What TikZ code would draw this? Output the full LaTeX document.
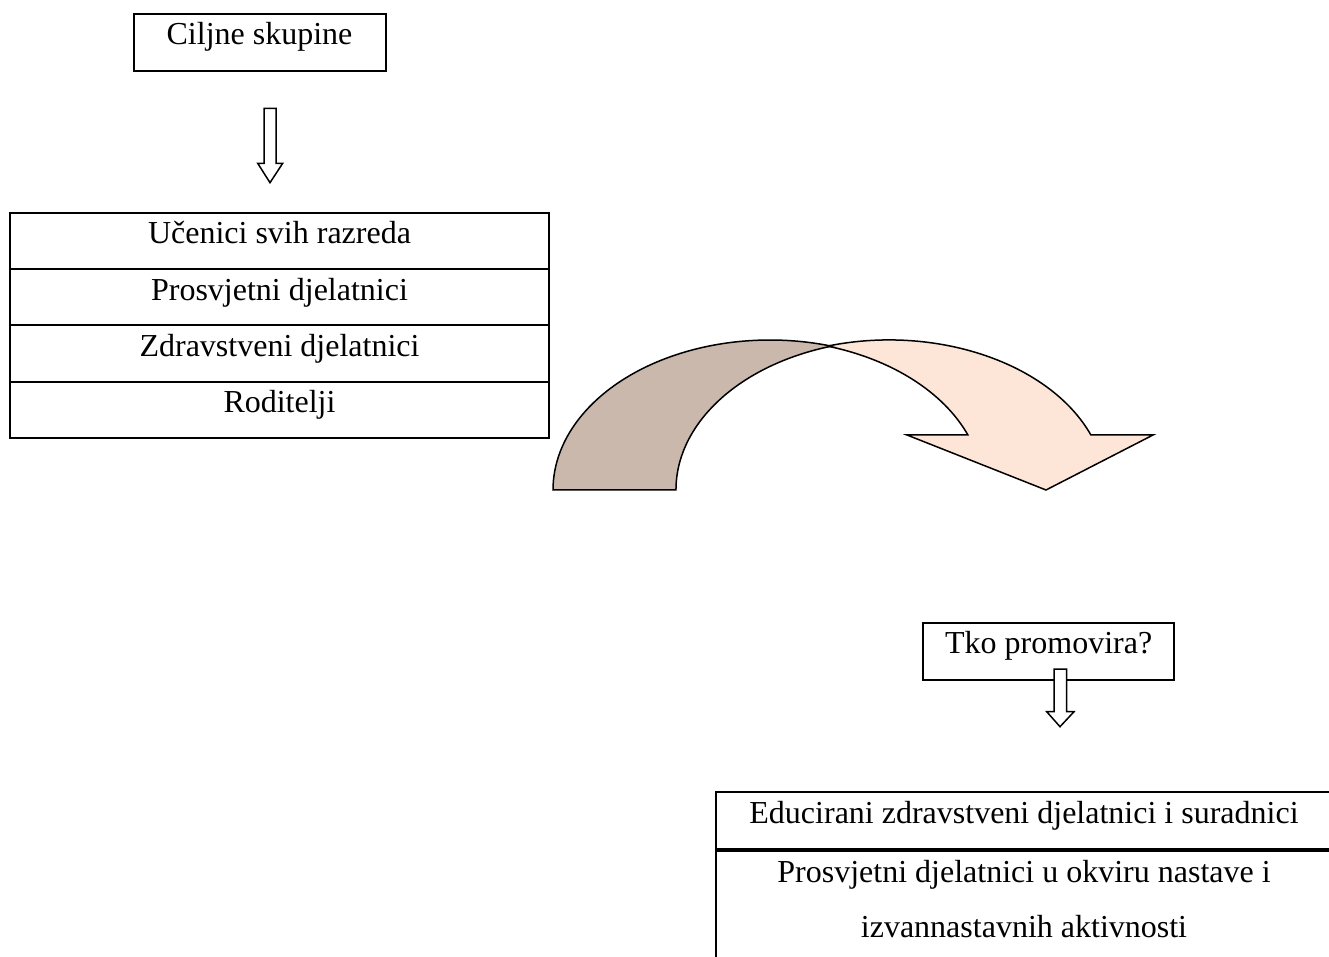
\documentclass[tikz,border=0pt]{standalone}
\usepackage{fontspec}
\setmainfont{Liberation Serif}
\definecolor{arcbrown}{RGB}{201,184,171}
\definecolor{arcpink}{RGB}{253,229,215}
\begin{document}
\begin{tikzpicture}[x=1pt,y=1pt,font=\fontsize{32}{55}\selectfont,
  box/.style={draw,line width=2pt,inner sep=0pt,text height=31pt,text depth=26pt,anchor=north},
  hollow/.style={draw,fill=white,line width=1.5pt,line join=miter},
  band/.style={draw,line width=1.5pt,x radius=217,y radius=150}]
\useasboundingbox (0,0) rectangle (1329,956);
% ciljne skupine
\node[box,minimum width=252pt] (cilj) at (259.5,943) {Ciljne skupine};
\draw[hollow](264,847.7)--(276,847.7)--(276,792.7)--(282.7,792.7)--(270,773.3)--(257.7,792.7)--(264,792.7)--cycle;
\foreach \t [count=\i from 0] in {Učenici svih razreda,Prosvjetni djelatnici,Zdravstveni djelatnici,Roditelji}
  \node[box,minimum width=539pt,text depth=25.25pt] (grupa\i) at (279.5,{744-56.25*\i}) {\t};
% zakrivljena strelica
\draw[band,fill=arcpink](827.5,609.9) arc[start angle=106.46,end angle=21.51]
  --(1153,521)--(1046,466)--(907,521)--(967.9,521)
  arc[start angle=21.51,end angle=73.54]--cycle;
\draw[band,fill=arcbrown](553,466) arc[start angle=180,end angle=73.54]
  arc[start angle=106.46,end angle=180]--cycle;
% tko promovira
\node[box,minimum width=251pt] (tko) at (1048.7,334) {Tko promovira?};
\draw[hollow](1054,287)--(1066.7,287)--(1066.7,244.3)--(1074,244.3)--(1060,229.3)--(1046.7,244.3)--(1054,244.3)--cycle;
\node[box,minimum width=616pt] (edu) at (1024,165) {Educirani zdravstveni djelatnici i suradnici};
\node[box,minimum width=616pt,text depth=150pt] (pros) at (edu.south) {Prosvjetni djelatnici u okviru nastave i};
\node[anchor=base] (izv) at ([yshift=-55pt]pros.base) {izvannastavnih aktivnosti};
\end{tikzpicture}
\end{document}
